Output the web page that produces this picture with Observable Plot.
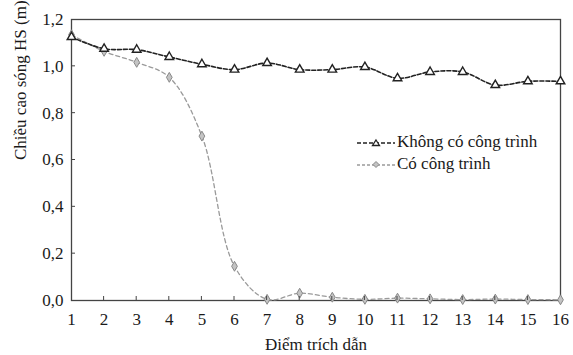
<!DOCTYPE html>
<html>
<head>
<meta charset="utf-8">
<script src="https://cdn.jsdelivr.net/npm/d3@7"></script>
<script src="https://cdn.jsdelivr.net/npm/@observablehq/plot@0.6"></script>
<style>
  html, body { margin: 0; padding: 0; background: #fff; }
  #wrap { position: relative; width: 573px; height: 355px; font-family: "Liberation Serif", "Times New Roman", serif; }
  #legend { position: absolute; left: 356px; top: 131px; font-size: 17px; color: #1a1a1a; line-height: 22px; font-family: "Liberation Serif", serif; }
  #legend div { display: flex; align-items: center; white-space: nowrap; }
  #legend svg { margin-right: 1px; }
</style>
</head>
<body>
<div id="wrap"><div id="chart"></div><div id="legend"></div></div>
<script>
const points = [1,2,3,4,5,6,7,8,9,10,11,12,13,14,15,16];
const khongCo = [1.125,1.075,1.071,1.040,1.009,0.986,1.014,0.986,0.986,0.997,0.949,0.976,0.976,0.920,0.936,0.936];
const coCT   = [1.135,1.064,1.017,0.953,0.702,0.146,0.005,0.031,0.014,0.005,0.010,0.007,0.004,0.006,0.004,0.003];
const seriesNames = ["Không có công trình", "Có công trình"];
const yTicks = [0,0.2,0.4,0.6,0.8,1.0,1.2];
const xLabel = "Điểm trích dẫn";
const yLabel = "Chiều cao sóng HS (m)";

const dataA = points.map((p,i) => ({x: p, y: khongCo[i]}));
const dataB = points.map((p,i) => ({x: p, y: coCT[i]}));
const fmt = d => d.toFixed(1).replace(".", ",");

const chart = Plot.plot({
  width: 573,
  height: 355,
  marginLeft: 71,
  marginRight: 13,
  marginTop: 19,
  marginBottom: 55,
  style: {fontFamily: "'Liberation Serif', 'Times New Roman', serif", fontSize: "17px", color: "#1a1a1a", background: "#fff"},
  x: {type: "linear", domain: [1,16], ticks: points, label: null},
  y: {type: "linear", domain: [0,1.2], ticks: yTicks, label: null},
  marks: [
    Plot.axisX({ticks: points, tickSize: 0, tickPadding: 12, fontSize: 17}),
    Plot.axisY({ticks: yTicks, tickFormat: fmt, tickSize: 0, tickPadding: 8, fontSize: 17}),
    Plot.text([xLabel], {frameAnchor: "bottom", dy: 49, fontSize: 17, lineAnchor: "bottom"}),
    Plot.text([yLabel], {frameAnchor: "left", dx: -51, rotate: -90, fontSize: 17}),
    Plot.frame({stroke: "#444", strokeWidth: 1.3}),
    Plot.line(dataB, {x: "x", y: "y", curve: "catmull-rom", stroke: "#9a9a9a", strokeWidth: 1.3, strokeDasharray: "4,3"}),
    Plot.dot(dataB, {x: "x", y: "y", symbol: "diamond", r: 3, fill: "#c4c4c4", stroke: "#888", strokeWidth: 1}),
    Plot.line(dataA, {x: "x", y: "y", curve: "catmull-rom", stroke: "#222", strokeWidth: 1.6, strokeDasharray: "4,2"}),
    Plot.dot(dataA, {x: "x", y: "y", symbol: "triangle", r: 3.2, fill: "#fff", stroke: "#222", strokeWidth: 1.4})
  ]
});
document.getElementById("chart").appendChild(chart);

// inward tick marks drawn via the chart's scales
const svg = d3.select(chart);
const xs = chart.scale("x"), ys = chart.scale("y");
const g = svg.append("g").attr("stroke", "#444").attr("stroke-width", 1);
points.slice(1, -1).forEach(p => {
  const X = xs.apply(p), Y = ys.apply(0);
  g.append("line").attr("x1", X).attr("x2", X).attr("y1", Y).attr("y2", Y - 4);
});
yTicks.slice(1, -1).forEach(t => {
  const X = xs.apply(1), Y = ys.apply(t);
  g.append("line").attr("x1", X).attr("x2", X + 4).attr("y1", Y).attr("y2", Y);
});

// legend
const legend = document.getElementById("legend");
const styles = [
  {stroke: "#222", dash: "4,2", w: 1.6, sym: "tri"},
  {stroke: "#9a9a9a", dash: "3,2", w: 1.3, sym: "dia"}
];
seriesNames.forEach((name, i) => {
  const s = styles[i];
  const row = document.createElement("div");
  const sym = s.sym === "tri"
    ? `<path d="M20,7 L23.5,12.5 L16.5,12.5 Z" fill="#fff" stroke="#222" stroke-width="1.3"/>`
    : `<path d="M20,6.5 L23,9.5 L20,12.5 L17,9.5 Z" fill="#c4c4c4" stroke="#888" stroke-width="1"/>`;
  row.innerHTML = `<svg width="40" height="18"><line x1="1" x2="39" y1="10" y2="10" stroke="${s.stroke}" stroke-width="${s.w}" stroke-dasharray="${s.dash}"/>${sym}</svg><span>${name}</span>`;
  legend.appendChild(row);
});
</script>
</body>
</html>
